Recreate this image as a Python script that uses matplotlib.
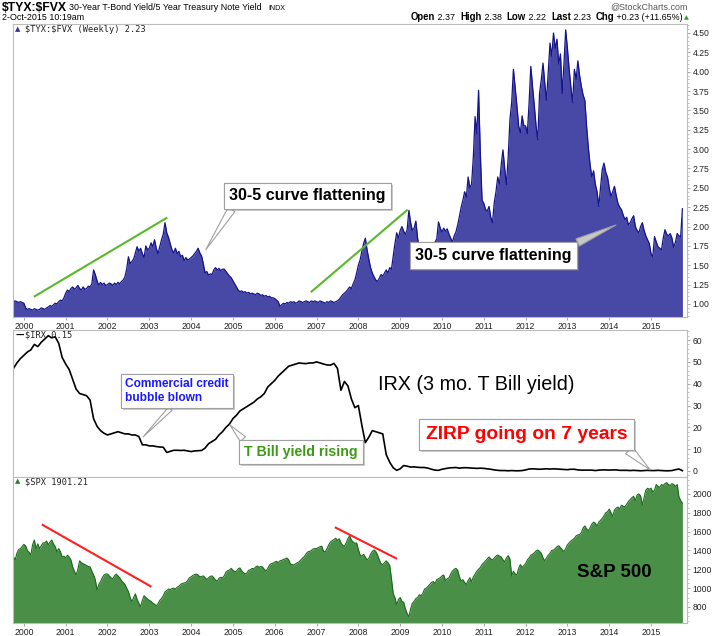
import matplotlib
matplotlib.use('Agg')
import numpy as np
import matplotlib.pyplot as plt
import matplotlib.patheffects as pe
from matplotlib.ticker import MultipleLocator

plt.rcParams['font.family'] = ['Liberation Sans', 'DejaVu Sans']

W, H = 723, 636

# all series start in Oct 1999
START = 1999.75
YEARS = list(range(2000, 2016))

# $TYX:$FVX ratio, twice a month
tyx_fvx = [
    1.03, 1.04, 1.03, 1.02, 1.03, 1.02,
    # 2000
    1.01, 0.95, 0.93, 0.94, 0.93, 0.92, 0.94, 0.93, 0.92, 0.93, 0.95, 0.94,
    0.93, 0.95, 0.96, 0.98, 0.97, 0.99, 1.01, 1.00, 1.03, 1.05, 1.04, 1.08,
    # 2001
    1.14, 1.18, 1.16, 1.20, 1.22, 1.19, 1.21, 1.24, 1.20, 1.18, 1.22, 1.19,
    1.20, 1.23, 1.22, 1.26, 1.44, 1.38, 1.30, 1.24, 1.28, 1.25, 1.27, 1.24,
    # 2002
    1.25, 1.27, 1.26, 1.24, 1.27, 1.25, 1.28, 1.26, 1.29, 1.31, 1.35, 1.45,
    1.61, 1.52, 1.55, 1.58, 1.66, 1.74, 1.68, 1.72, 1.65, 1.60, 1.75, 1.70,
    # 2003
    1.72, 1.79, 1.74, 1.83, 1.72, 1.65, 1.74, 1.83, 1.90, 2.05, 1.92, 1.86,
    1.78, 1.70, 1.66, 1.72, 1.65, 1.68, 1.61, 1.63, 1.56, 1.60, 1.57, 1.58,
    # 2004
    1.60, 1.62, 1.65, 1.68, 1.72, 1.66, 1.62, 1.52, 1.40, 1.42, 1.37, 1.39,
    1.38, 1.44, 1.47, 1.44, 1.46, 1.43, 1.45, 1.45, 1.42, 1.39, 1.36, 1.34,
    # 2005
    1.30, 1.26, 1.22, 1.18, 1.16, 1.17, 1.15, 1.16, 1.14, 1.15, 1.13, 1.14,
    1.13, 1.12, 1.14, 1.13, 1.11, 1.12, 1.10, 1.11, 1.09, 1.10, 1.08, 1.08,
    # 2006
    1.07, 1.05, 1.03, 0.97, 0.99, 1.01, 1.00, 1.02, 1.01, 1.03, 1.02, 1.03,
    1.01, 1.02, 1.04, 1.03, 1.02, 1.03, 1.04, 1.03, 1.02, 1.04, 1.03, 1.04,
    # 2007
    1.03, 1.02, 1.04, 1.03, 1.02, 1.01, 1.03, 1.02, 1.04, 1.03, 1.02, 1.03,
    1.04, 1.06, 1.09, 1.12, 1.14, 1.16, 1.19, 1.22, 1.20, 1.26, 1.31, 1.40,
    # 2008
    1.50, 1.57, 1.68, 1.78, 1.85, 1.70, 1.58, 1.47, 1.40, 1.35, 1.31, 1.29,
    1.33, 1.38, 1.36, 1.40, 1.44, 1.40, 1.47, 1.45, 1.62, 1.78, 1.92, 1.85,
    # 2009
    1.95, 2.00, 1.94, 1.90, 1.96, 2.21, 2.05, 1.95, 1.98, 2.07, 1.85, 1.71,
    1.78, 1.74, 1.77, 1.72, 1.76, 1.74, 1.78, 1.73, 1.80, 1.84, 2.06, 1.98,
    # 2010
    1.93, 1.98, 1.94, 1.97, 1.90, 1.85, 1.80, 1.88, 1.93, 2.02, 2.13, 2.25,
    2.34, 2.45, 2.38, 2.64, 2.50, 2.55, 2.90, 3.42, 3.20, 3.76, 2.95, 2.34,
    # 2011
    2.30, 2.22, 2.20, 2.26, 2.12, 2.05, 2.31, 2.45, 2.64, 2.55, 2.80, 2.99,
    2.75, 2.54, 2.90, 3.38, 3.60, 4.03, 3.80, 3.56, 3.30, 3.21, 3.43, 3.30,
    # 2012
    3.30, 3.20, 3.60, 4.07, 3.80, 3.56, 3.30, 3.12, 3.72, 3.90, 4.11, 3.85,
    3.63, 4.00, 4.37, 4.20, 4.50, 4.30, 4.42, 4.10, 4.23, 3.72, 4.10, 4.54,
    # 2013
    4.30, 4.03, 3.80, 3.60, 4.03, 3.90, 4.14, 3.95, 3.81, 3.70, 3.63, 3.30,
    3.02, 2.80, 2.64, 2.72, 2.55, 2.45, 2.26, 2.50, 2.74, 2.82, 2.70, 2.64,
    # 2014
    2.50, 2.39, 2.45, 2.52, 2.40, 2.30, 2.25, 2.22, 2.15, 2.09, 2.12, 2.02,
    2.05, 2.10, 2.14, 2.00, 1.95, 1.92, 2.00, 2.05, 1.95, 1.88, 1.83, 1.78,
    # 2015
    1.65, 1.61, 1.87, 1.80, 1.74, 1.72, 1.70, 1.85, 1.96, 1.90, 1.88, 1.91,
    1.85, 1.73, 1.80, 1.91, 1.88, 1.87, 2.23,
]

# $IRX, monthly
irx = [
    47.0, 49.5, 51.5,
    53.0, 54.5, 55.5, 58.0, 57.0, 59.0, 60.5, 62.0, 61.0, 61.5, 58.5, 52.0,
    49.0, 46.5, 42.0, 37.5, 35.5, 35.0, 34.5, 32.5, 24.0, 20.5, 18.5, 17.3,
    16.5, 17.0, 17.5, 18.0, 17.5, 17.0, 17.0, 16.5, 16.5, 15.8, 12.0, 12.0,
    11.5, 11.5, 11.2, 11.0, 10.9, 8.5, 9.0, 9.5, 9.5, 9.4, 9.5, 9.2,
    8.9, 9.2, 9.3, 9.4, 10.5, 12.5, 13.5, 14.5, 16.5, 18.0, 20.0, 21.5,
    24.0, 25.5, 27.5, 28.5, 29.5, 30.5, 31.5, 33.0, 34.0, 35.5, 38.5, 40.0,
    41.5, 43.5, 45.0, 46.5, 48.0, 48.5, 49.0, 49.5, 49.3, 49.2, 49.5, 49.5,
    50.0, 49.5, 49.0, 48.6, 48.5, 49.3, 47.0, 37.0, 41.0, 39.0, 33.0, 29.0,
    30.0, 21.0, 13.0, 15.5, 18.5, 18.0, 17.5, 17.0, 7.5, 4.0, 1.5, 0.3,
    1.0, 2.5, 2.2, 1.8, 1.9, 1.7, 1.6, 1.6, 1.3, 0.8, 0.4, 0.3,
    0.8, 1.1, 1.4, 1.5, 1.6, 1.3, 1.5, 1.5, 1.4, 1.3, 1.2, 1.3,
    1.2, 1.0, 0.8, 0.5, 0.3, 0.2, 0.2, 0.1, 0.2, 0.1, 0.1, 0.2,
    0.5, 0.9, 1.0, 0.9, 0.8, 0.9, 1.0, 0.9, 1.0, 0.9, 0.8, 0.7,
    0.6, 0.8, 0.8, 0.5, 0.4, 0.4, 0.4, 0.4, 0.2, 0.4, 0.5, 0.5,
    0.4, 0.5, 0.5, 0.3, 0.3, 0.3, 0.2, 0.3, 0.2, 0.1, 0.2, 0.3,
    0.2, 0.2, 0.3, 0.2, 0.1, 0.1, 0.2, 0.6, 0.9, 0.15,
]

# $SPX, twice a month
spx = [
    1334, 1300, 1370, 1410, 1420, 1440,
    # 2000
    1465, 1450, 1400, 1380, 1352, 1460, 1511, 1420, 1470, 1420, 1450, 1480,
    1480, 1500, 1460, 1490, 1511, 1470, 1440, 1385, 1420, 1385, 1330, 1340,
    # 2001
    1320, 1350, 1330, 1300, 1225, 1180, 1140, 1200, 1290, 1270, 1260, 1250,
    1240, 1230, 1225, 1180, 1140, 1090, 980, 1040, 1069, 1110, 1140, 1150,
    # 2002
    1150, 1130, 1110, 1100, 1130, 1150, 1130, 1110, 1080, 1060, 1040, 1000,
    963, 900, 856, 900, 940, 880, 840, 803, 870, 920, 900, 885,
    # 2003
    870, 860, 840, 830, 810, 835, 870, 890, 920, 960, 975, 990,
    985, 995, 1000, 990, 1010, 1020, 1040, 1050, 1055, 1060, 1080, 1110,
    # 2004
    1120, 1135, 1145, 1150, 1140, 1120, 1125, 1130, 1110, 1090, 1110, 1125,
    1130, 1110, 1085, 1075, 1105, 1115, 1110, 1130, 1170, 1185, 1193, 1210,
    # 2005
    1190, 1175, 1180, 1205, 1215, 1185, 1165, 1150, 1160, 1190, 1195, 1210,
    1205, 1225, 1235, 1220, 1230, 1225, 1200, 1180, 1210, 1245, 1260, 1265,
    # 2006
    1275, 1285, 1270, 1290, 1295, 1305, 1310, 1320, 1300, 1255, 1250, 1245,
    1260, 1270, 1280, 1300, 1320, 1335, 1365, 1385, 1390, 1400, 1415, 1420,
    # 2007
    1420, 1430, 1440, 1445, 1390, 1385, 1420, 1460, 1490, 1505, 1515, 1530,
    1505, 1525, 1480, 1455, 1445, 1480, 1525, 1555, 1510, 1490, 1475, 1480,
    # 2008
    1410, 1352, 1340, 1360, 1330, 1300, 1315, 1360, 1390, 1405, 1390, 1352,
    1300, 1260, 1250, 1270, 1290, 1270, 1240, 1100, 940, 900, 820, 880,
    # 2009
    900, 860, 850, 780, 730, 697, 780, 840, 860, 890, 900, 930,
    920, 945, 990, 1000, 1020, 1040, 1060, 1070, 1050, 1090, 1100, 1110,
    # 2010
    1130, 1140, 1080, 1100, 1110, 1150, 1180, 1200, 1210, 1190, 1120, 1075,
    1090, 1060, 1040, 1080, 1110, 1070, 1120, 1150, 1180, 1200, 1220, 1250,
    # 2011
    1270, 1290, 1310, 1330, 1310, 1300, 1320, 1340, 1352, 1340, 1330, 1300,
    1280, 1320, 1345, 1310, 1130, 1180, 1150, 1140, 1210, 1250, 1220, 1240,
    # 2012
    1260, 1300, 1320, 1350, 1360, 1375, 1395, 1405, 1390, 1370, 1320, 1290,
    1320, 1350, 1370, 1400, 1405, 1420, 1440, 1450, 1430, 1410, 1385, 1420,
    # 2013
    1460, 1480, 1500, 1515, 1530, 1555, 1565, 1570, 1590, 1640, 1660, 1630,
    1610, 1640, 1680, 1700, 1690, 1660, 1700, 1720, 1740, 1770, 1800, 1810,
    # 2014
    1840, 1800, 1760, 1830, 1850, 1860, 1840, 1880, 1870, 1865, 1890, 1920,
    1940, 1960, 1975, 1930, 1990, 2000, 1980, 1880, 1960, 2040, 2060, 2050,
    # 2015
    2060, 2020, 2040, 2100, 2080, 2070, 2100, 2090, 2110, 2120, 2100, 2090,
    2110, 2100, 2080, 2100, 1970, 1930, 1901,
]

ratio_ticks = [1.00, 1.25, 1.50, 1.75, 2.00, 2.25, 2.50, 2.75, 3.00,
               3.25, 3.50, 3.75, 4.00, 4.25, 4.50]
irx_ticks = [0, 10, 20, 30, 40, 50, 60]
spx_ticks = [800, 1000, 1200, 1400, 1600, 1800, 2000]


def fx(px):
    return px / W


def fy(py):
    return 1 - py / H


def add_panel(fig, l, t, r, b):
    return fig.add_axes([fx(l), fy(b), (r - l) / W, (b - t) / H])


def style_panel(ax, ticks, fmt, ylim, minor, show_years):
    ax.set_xlim(1999.74, 2015.86)
    ax.set_ylim(*ylim)
    ax.yaxis.tick_right()
    ax.set_yticks(ticks)
    ax.set_yticklabels([fmt.format(v) for v in ticks])
    ax.yaxis.set_minor_locator(MultipleLocator(minor))
    ax.set_xticks(YEARS)
    if show_years:
        ax.set_xticklabels([str(y) for y in YEARS])
    else:
        ax.set_xticklabels([])
        ax.tick_params(axis='x', length=0)
    for s in ax.spines.values():
        s.set_color('#bcbcbc')
        s.set_linewidth(0.8)
    ax.tick_params(axis='y', which='major', labelsize=6.2, length=2.5,
                   width=0.6, color='#999999', pad=1.5, labelcolor='#222222')
    ax.tick_params(axis='y', which='minor', length=1.2, width=0.5,
                   color='#aaaaaa')
    ax.tick_params(axis='x', labelsize=6.2, width=0.6, color='#999999',
                   pad=1.5, labelcolor='#222222')
    if show_years:
        ax.tick_params(axis='x', length=2)


def callout(ax, text, tip, center, color, size, relpos, weight='bold',
            tail=0.5, align='center', wedge_fc='white'):
    ann = ax.annotate(
        text, xy=tip, xytext=center, textcoords='data',
        ha='center', va='center', multialignment=align,
        fontsize=size, fontweight=weight, color=color,
        bbox=dict(boxstyle='square,pad=0.35', fc='white', ec='#a0a0a0',
                  lw=0.8),
        arrowprops=dict(arrowstyle='wedge,tail_width={}'.format(tail),
                        fc=wedge_fc, ec='#a0a0a0', lw=0.8, relpos=relpos,
                        shrinkA=0, shrinkB=0),
        zorder=6)
    ann.get_bbox_patch().set_path_effects(
        [pe.withSimplePatchShadow(offset=(1.5, -1.5), shadow_rgbFace='#777777',
                                  alpha=0.35), pe.Normal()])
    return ann


fig = plt.figure(figsize=(W / 100, H / 100), dpi=100)

# ---- top panel: 30yr / 5yr ratio
ax1 = add_panel(fig, 13, 24, 687, 317)
x1 = START + np.arange(len(tyx_fvx)) / 24.0
ax1.fill_between(x1, 0, tyx_fvx, color='#4848a6', lw=0)
ax1.plot(x1, tyx_fvx, color='#14148a', lw=0.9)
style_panel(ax1, ratio_ticks, '{:.2f}', (0.832, 4.616), 0.05, True)

ax1.plot([2000.26, 2003.41], [1.10, 2.11], color='#5cb82a', lw=1.5)
ax1.plot([2006.88, 2009.16], [1.16, 2.21], color='#5cb82a', lw=1.5)
callout(ax1, '30-5 curve flattening', (2004.35, 1.70), (2006.78, 2.395),
        'black', 11.5, (0.04, 0))
callout(ax1, '30-5 curve flattening', (2014.16, 2.02), (2011.23, 1.626),
        'black', 11.5, (0.96, 1), wedge_fc='#c8c8c8')

# ---- middle panel: 3 month T bill
ax2 = add_panel(fig, 13, 330, 687, 477)
x2 = START + np.arange(len(irx)) / 12.0
ax2.plot(x2, irx, color='black', lw=1.2)
style_panel(ax2, irx_ticks, '{:d}', (-2.75, 64.6), 2, False)

callout(ax2, 'Commercial credit\nbubble blown', (2002.85, 15.6),
        (2003.66, 36.6), '#1a1aff', 8.6, (0.48, 0), align='left', tail=0.4)
callout(ax2, 'T Bill yield rising', (2004.93, 21.1), (2006.63, 8.9),
        '#3c9a14', 10.2, (0.03, 1))
callout(ax2, 'ZIRP going on 7 years', (2014.98, 0.5), (2012.02, 16.7),
        '#ff0000', 13.9, (0.97, 0))
ax2.text(2010.83, 39.6, 'IRX (3 mo. T Bill yield)', fontsize=14.2,
         ha='center', va='center', color='black')

# ---- bottom panel: S&P 500
ax3 = add_panel(fig, 13, 477, 687, 623)
x3 = START + np.arange(len(spx)) / 24.0
ax3.fill_between(x3, 0, spx, color='#4a8f47', lw=0)
ax3.plot(x3, spx, color='#1b6a1b', lw=0.8)
style_panel(ax3, spx_ticks, '{:d}', (630, 2180), 50, True)

ax3.plot([2000.45, 2003.03], [1671, 1020], color='#ff2020', lw=1.5)
ax3.plot([2007.46, 2008.90], [1642, 1317], color='#ff2020', lw=1.5)
ax3.text(2014.13, 1161, 'S&P 500', fontsize=13.5, fontweight='bold',
         ha='center', va='center', color='black')

# ---- in-panel legends
mono = 'DejaVu Sans Mono'
fig.text(fx(15), fy(29.5), '\u25b2', fontsize=5, color='#3030a0',
         va='center', family='DejaVu Sans')
fig.text(fx(25), fy(29.5), '\\$TYX:\\$FVX (Weekly) 2.23', fontsize=6.2,
         family=mono, va='center', color='#222222')
fig.text(fx(15), fy(335), '\u2014', fontsize=6, color='black',
         fontweight='bold', va='center', family='DejaVu Sans')
fig.text(fx(25), fy(335), '\\$IRX 0.15', fontsize=6.2, family=mono,
         va='center', color='#222222')
fig.text(fx(15), fy(481.5), '\u25b2', fontsize=5, color='#2e7d2e',
         va='center', family='DejaVu Sans')
fig.text(fx(25), fy(481.5), '\\$SPX 1901.21', fontsize=6.2, family=mono,
         va='center', color='#222222')

# ---- header
fig.text(fx(2), fy(8), '\\$TYX:\\$FVX', fontsize=8.8, fontweight='bold',
         va='center')
fig.text(fx(69), fy(8), '30-Year T-Bond Yield/5 Year Treasury Note Yield',
         fontsize=6.4, va='center')
fig.text(fx(268), fy(8.5), 'INDX', fontsize=5, va='center')
fig.text(fx(2), fy(18), '2-Oct-2015 10:19am', fontsize=6.4, va='center')
fig.text(fx(688), fy(7), '@StockCharts.com', fontsize=6.4, va='center',
         ha='right', color='#555555')

header_runs = [('Open', True), (' 2.37  ', False), ('High', True),
               (' 2.38  ', False), ('Low', True), (' 2.22  ', False),
               ('Last', True), (' 2.23  ', False), ('Chg', True),
               (' +0.23 (+11.65%)', False)]
renderer = fig.canvas.get_renderer()
pieces = []
for txt, bold in header_runs:
    t = fig.text(0, fy(17.5), txt, fontsize=6.9 if bold else 6.4,
                 fontweight='bold' if bold else 'normal', va='center')
    pieces.append((t, t.get_window_extent(renderer).width))
total = sum(w for _, w in pieces)
xpos = 683 - total
for t, w in pieces:
    t.set_x(fx(xpos))
    xpos += w
fig.text(fx(xpos + 1), fy(17.5), '\u25b2', fontsize=4.5, color='#2e9a2e',
         va='center', family='DejaVu Sans')

fig.savefig('out.png', dpi=100)
